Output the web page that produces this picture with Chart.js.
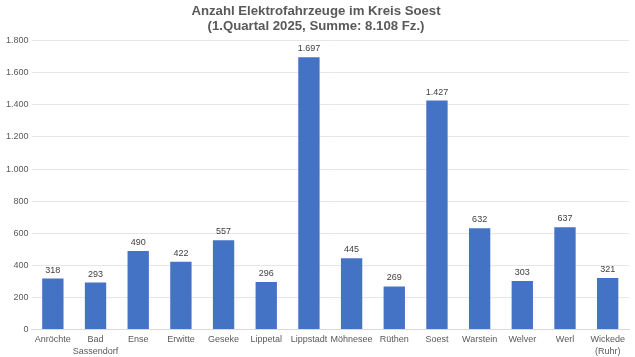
<!DOCTYPE html>
<html>
<head>
<meta charset="utf-8">
<script src="https://cdn.jsdelivr.net/npm/chart.js@4/dist/chart.umd.min.js"></script>
<style>
html,body{margin:0;padding:0;background:#fff;}
#wrap{width:635px;height:357px;}
</style>
</head>
<body>
<div id="wrap"><canvas id="c"></canvas></div>
<script>
const categories = [["Anröchte"],["Bad","Sassendorf"],["Ense"],["Erwitte"],["Geseke"],["Lippetal"],["Lippstadt"],["Möhnesee"],["Rüthen"],["Soest"],["Warstein"],["Welver"],["Werl"],["Wickede","(Ruhr)"]];
const values = [318,293,490,422,557,296,1697,445,269,1427,632,303,637,321];
const titleLines = ["Anzahl Elektrofahrzeuge im Kreis Soest","(1.Quartal 2025, Summe: 8.108 Fz.)"];

function fmt(v){ return String(v).replace(/\B(?=(\d{3})+(?!\d))/g, "."); }

const labelPlugin = {
  id: 'valLabels',
  afterDatasetsDraw(chart){
    const ctx = chart.ctx;
    const meta = chart.getDatasetMeta(0);
    ctx.save();
    ctx.font = '9px "Liberation Sans", Arial, sans-serif';
    ctx.fillStyle = '#404040';
    ctx.textAlign = 'center';
    ctx.textBaseline = 'bottom';
    meta.data.forEach((bar,i)=>{
      ctx.fillText(fmt(values[i]), bar.x, bar.y - 4);
    });
    ctx.restore();
  }
};

new Chart(document.getElementById('c'), {
  type: 'bar',
  data: {
    labels: categories,
    datasets: [{
      data: values,
      backgroundColor: '#4472C4',
      barPercentage: 0.5,
      categoryPercentage: 1.0
    }]
  },
  options: {
    responsive: true,
    maintainAspectRatio: false,
    animation: false,
    layout: { padding: { left: 3, right: 6, top: 3, bottom: -4 } },
    plugins: {
      legend: { display: false },
      tooltip: { enabled: false },
      title: {
        display: true,
        text: titleLines,
        color: '#595959',
        font: { family: '"Liberation Sans", Arial, sans-serif', size: 13.2, weight: 'bold', lineHeight: 1.2 },
        padding: { top: 0, bottom: 6 }
      }
    },
    scales: {
      x: {
        grid: { display: false, drawTicks: false },
        border: { color: '#D9D9D9' },
        ticks: {
          color: '#595959',
          font: { family: '"Liberation Sans", Arial, sans-serif', size: 9, lineHeight: 1.3 },
          maxRotation: 0, autoSkip: false, padding: 4
        }
      },
      y: {
        min: 0, max: 1800,
        grid: { color: '#E6E6E6', drawTicks: false },
        border: { display: false },
        ticks: {
          stepSize: 200,
          color: '#595959',
          padding: 3,
          font: { family: '"Liberation Sans", Arial, sans-serif', size: 9 },
          callback: (v)=>fmt(v)
        }
      }
    }
  },
  plugins: [labelPlugin]
});
</script>
</body>
</html>
